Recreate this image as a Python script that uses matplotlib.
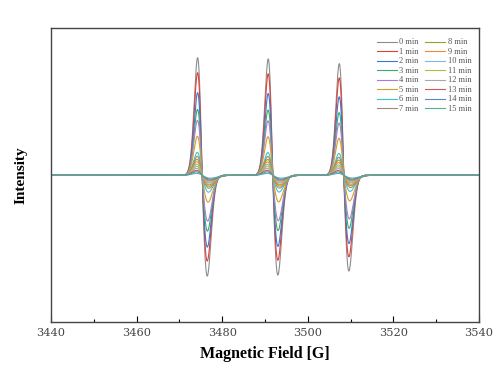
import numpy as np
import matplotlib.pyplot as plt

# ESR spectra, 16 scans (0..15 min), three hyperfine lines
times = list(range(16))
labels = [f"{t} min" for t in times]

# peak heights / depths (fraction of half axis)
pos_amp = np.array([117.7, 102.7, 82.7, 66, 55, 39, 23, 19, 16, 13.5, 11, 9, 7, 5, 3.5, 2]) / 147.5
neg_amp = np.array([101, 86, 72, 56, 46, 27, 17, 13, 11, 9.5, 8, 7, 6, 5, 4, 3]) / 147.5
# half peak-to-peak widths [G] on the low / high field side
pos_width = [1.05, 1.05, 1.05, 1.07, 1.08, 1.1, 1.12, 1.15, 1.18, 1.2, 1.22, 1.25, 1.28, 1.3, 1.3, 1.3]
neg_width = [1.2, 1.2, 1.22, 1.25, 1.3, 1.4, 1.5, 1.6, 1.65, 1.7, 1.75, 1.8, 1.85, 1.9, 1.95, 2.0]

# zero crossings [G] and relative strength of each hyperfine line
centers = [3475.3, 3491.8, 3508.4]
line_scale = [1.0, 0.99, 0.95]

colors = ['#8c8c8c', '#e0403a', '#3a78d0', '#3aaa70', '#b07ad0', '#d4a020',
          '#40c4cc', '#a08878', '#9aa030', '#f08a30', '#88b4e0', '#a8c040',
          '#a8a8a8', '#d05858', '#5a88c8', '#50b098']

field = np.linspace(3440, 3540, 4000)


def deriv_line(x, c, a_pos, a_neg, s_pos, s_neg):
    # first-derivative Gaussian, different height/width on each side
    d = x - c
    s = np.where(d < 0, s_pos, s_neg)
    a = np.where(d < 0, a_pos, a_neg)
    u = d / s
    return -a * u * np.exp(0.5 - u ** 2 / 2)


fig = plt.figure(figsize=(5, 3.89), dpi=100)
ax = fig.add_axes([0.102, 0.171, 0.856, 0.757])

for i in range(len(times)):
    y = np.zeros_like(field)
    for k in range(3):
        y += line_scale[k] * deriv_line(field, centers[k], pos_amp[i], neg_amp[i],
                                        pos_width[i], neg_width[i])
    ax.plot(field, y, color=colors[i], lw=0.8, label=labels[i])

ax.set_xlim(3440, 3540)
ax.set_ylim(-1, 1)
ax.set_yticks([])
ax.set_xticks(np.arange(3440, 3541, 20))
ax.set_xticks(np.arange(3450, 3540, 20), minor=True)
ax.tick_params(axis='x', which='major', direction='in', length=4, width=0.8,
               labelsize=8.2, pad=4)
ax.tick_params(axis='x', which='minor', direction='in', length=2, width=0.8)
for lab in ax.get_xticklabels():
    lab.set_family('DejaVu Serif')
    lab.set_color('#444444')
for sp in ax.spines.values():
    sp.set_color('#444444')
    sp.set_linewidth(1.0)

ax.set_xlabel('Magnetic Field [G]', family='Liberation Serif', fontweight='bold',
              fontsize=11.5, labelpad=6)
ax.set_ylabel('Intensity', family='Liberation Serif', fontweight='bold',
              fontsize=11, labelpad=17)

ax.legend(ncol=2, frameon=False, loc='upper right', bbox_to_anchor=(1.0, 0.99),
          prop={'family': 'Liberation Serif', 'size': 6}, labelspacing=0.18,
          handlelength=2.4, handletextpad=0.3, columnspacing=0.8,
          labelcolor='#555555')

fig.savefig('out.png', dpi=100)
